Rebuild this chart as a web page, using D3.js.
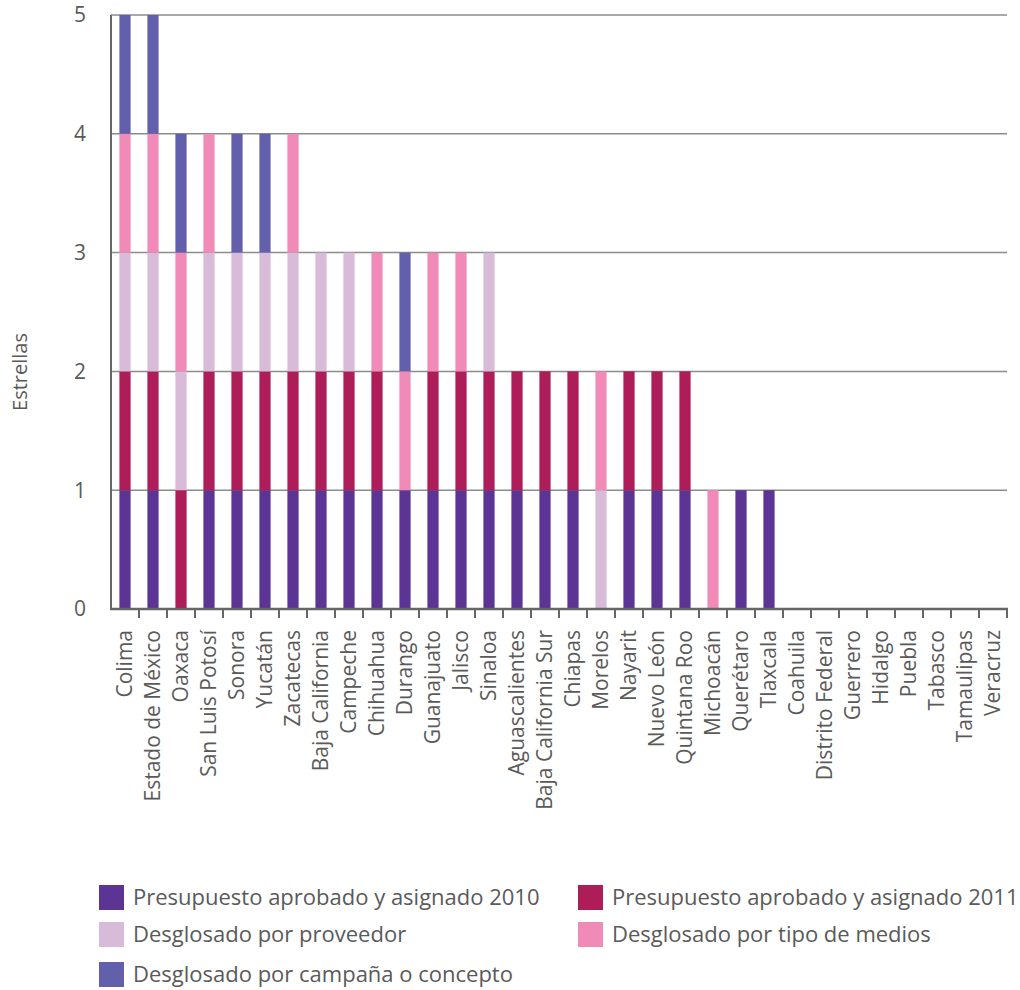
<!DOCTYPE html>
<html>
<head>
<meta charset="utf-8">
<script src="https://cdn.jsdelivr.net/npm/d3@7"></script>
<style>
  body { margin: 0; background: #fff; }
  svg { font-family: "Open Sans", sans-serif; }
</style>
</head>
<body>
<svg id="chart" width="1020" height="990"></svg>
<script>
// Estados, ordered as in the chart
const states = [
  "Colima", "Estado de México", "Oaxaca", "San Luis Potosí", "Sonora", "Yucatán",
  "Zacatecas", "Baja California", "Campeche", "Chihuahua", "Durango", "Guanajuato",
  "Jalisco", "Sinaloa", "Aguascalientes", "Baja California Sur", "Chiapas", "Morelos",
  "Nayarit", "Nuevo León", "Quintana Roo", "Michoacán", "Querétaro", "Tlaxcala",
  "Coahuila", "Distrito Federal", "Guerrero", "Hidalgo", "Puebla", "Tabasco",
  "Tamaulipas", "Veracruz"
];

// one star per criterion (stack order bottom -> top)
const presupuesto2010 = [1,1,0,1,1,1,1,1,1,1,1,1,1,1,1,1,1,0,1,1,1,0,1,1,0,0,0,0,0,0,0,0];
const presupuesto2011 = [1,1,1,1,1,1,1,1,1,1,0,1,1,1,1,1,1,0,1,1,1,0,0,0,0,0,0,0,0,0,0,0];
const proveedor       = [1,1,1,1,1,1,1,1,1,0,0,0,0,1,0,0,0,1,0,0,0,0,0,0,0,0,0,0,0,0,0,0];
const tipoMedios      = [1,1,1,1,0,0,1,0,0,1,1,1,1,0,0,0,0,1,0,0,0,1,0,0,0,0,0,0,0,0,0,0];
const campana         = [1,1,1,0,1,1,0,0,0,0,1,0,0,0,0,0,0,0,0,0,0,0,0,0,0,0,0,0,0,0,0,0];

const yTicks = [0, 1, 2, 3, 4, 5];

const series = [
  { key: "p2010", label: "Presupuesto aprobado y asignado 2010", color: "#5c3594", values: presupuesto2010 },
  { key: "p2011", label: "Presupuesto aprobado y asignado 2011", color: "#ad1d57", values: presupuesto2011 },
  { key: "prov",  label: "Desglosado por proveedor",             color: "#d8bbd8", values: proveedor },
  { key: "medios", label: "Desglosado por tipo de medios",       color: "#f08bb8", values: tipoMedios },
  { key: "camp",  label: "Desglosado por campaña o concepto",    color: "#6360ab", values: campana }
];

const rows = states.map((s, i) => {
  const r = { state: s };
  series.forEach((se) => { r[se.key] = se.values[i]; });
  return r;
});

const plotLeft = 111, plotRight = 1007, plotTop = 15, plotBottom = 609;
const textColor = "#5a5a5a";
const svg = d3.select("#chart");

const x = d3.scaleBand().domain(states).range([plotLeft, plotRight]).paddingInner(0.6).paddingOuter(0.3);
const y = d3.scaleLinear().domain([0, 5]).range([plotBottom, plotTop]);

// gridlines
svg.append("g")
  .selectAll("line")
  .data(yTicks.filter((t) => t > 0))
  .join("line")
  .attr("x1", plotLeft).attr("x2", plotRight)
  .attr("y1", (d) => y(d)).attr("y2", (d) => y(d))
  .attr("stroke", "#8c8c8c")
  .attr("stroke-width", 1.5);

// stacked bars
const stacked = d3.stack().keys(series.map((s) => s.key))(rows);
svg.append("g")
  .selectAll("g")
  .data(stacked)
  .join("g")
  .attr("fill", (d, i) => series[i].color)
  .selectAll("rect")
  .data((d) => d.filter((p) => p[1] - p[0] > 0))
  .join("rect")
  .attr("x", (d) => x(d.data.state))
  .attr("width", x.bandwidth())
  .attr("y", (d) => y(d[1]))
  .attr("height", (d) => y(d[0]) - y(d[1]));

// y axis
svg.append("line")
  .attr("x1", plotLeft).attr("x2", plotLeft)
  .attr("y1", plotTop).attr("y2", plotBottom)
  .attr("stroke", "#666").attr("stroke-width", 2);

svg.append("g")
  .selectAll("text")
  .data(yTicks)
  .join("text")
  .attr("x", 86)
  .attr("y", (d) => y(d))
  .attr("dy", "0.35em")
  .attr("text-anchor", "end")
  .attr("fill", textColor)
  .attr("font-size", 21)
  .text((d) => d);

svg.append("text")
  .attr("transform", "translate(27,372) rotate(-90)")
  .attr("text-anchor", "middle")
  .attr("fill", textColor)
  .attr("font-size", 20)
  .text("Estrellas");

// x axis
svg.append("line")
  .attr("x1", plotLeft - 1).attr("x2", plotRight + 1)
  .attr("y1", plotBottom).attr("y2", plotBottom)
  .attr("stroke", "#666").attr("stroke-width", 2.5);

const step = x.step();
svg.append("g")
  .selectAll("line")
  .data(d3.range(1, states.length + 1))
  .join("line")
  .attr("x1", (d) => plotLeft + d * step).attr("x2", (d) => plotLeft + d * step)
  .attr("y1", plotBottom).attr("y2", plotBottom + 9)
  .attr("stroke", "#666").attr("stroke-width", 2);

svg.append("g")
  .selectAll("text")
  .data(states)
  .join("text")
  .attr("transform", (d) => `translate(${x(d) + x.bandwidth() / 2},630) rotate(-90)`)
  .attr("dy", "0.35em")
  .attr("text-anchor", "end")
  .attr("fill", textColor)
  .attr("font-size", 21)
  .text((d) => d);

// legend
const legendPos = [
  { x: 99, y: 885 }, { x: 578, y: 885 },
  { x: 99, y: 922 }, { x: 578, y: 922 },
  { x: 99, y: 962 }
];
const legend = svg.append("g")
  .selectAll("g")
  .data(series)
  .join("g")
  .attr("transform", (d, i) => `translate(${legendPos[i].x},${legendPos[i].y})`);
legend.append("rect")
  .attr("width", 25).attr("height", 25)
  .attr("fill", (d) => d.color);
legend.append("text")
  .attr("x", 34).attr("y", 12.5)
  .attr("dy", "0.35em")
  .attr("fill", textColor)
  .attr("font-size", 22)
  .text((d) => d.label);
</script>
</body>
</html>
